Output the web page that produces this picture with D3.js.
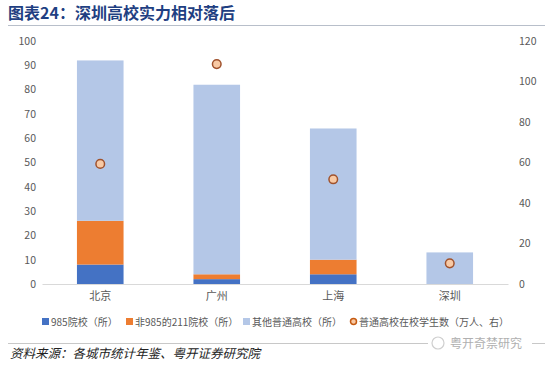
<!DOCTYPE html>
<html>
<head>
<meta charset="utf-8">
<script src="https://cdn.jsdelivr.net/npm/d3@7"></script>
<style>
  body { margin: 0; background: #fff; }
  svg { display: block; font-family: "Microsoft YaHei", "Noto Sans CJK SC", sans-serif; }
</style>
</head>
<body>
<div class="chart"></div>
<script>
const cities = ['北京', '广州', '上海', '深圳'];
const schools985 = [8, 2, 4, 0];
const schools211 = [18, 2, 6, 0];
const schoolsOther = [66, 78, 54, 13];
const students = [59.3, 108.6, 51.7, 10.2];
const leftTicks = [0, 10, 20, 30, 40, 50, 60, 70, 80, 90, 100];
const rightTicks = [0, 20, 40, 60, 80, 100, 120];
const seriesNames = ['985院校（所）', '非985的211院校（所）', '其他普通高校（所）', '普通高校在校学生数（万人、右）'];

const width = 550, height = 369;
const margin = {top: 41, right: 42, bottom: 85, left: 42};
const colors = ['#4472c4', '#ed7d31', '#b4c7e7'];

const svg = d3.select('.chart')
  .append('svg')
  .attr('width', width)
  .attr('height', height);

// title + rules
svg.append('text')
  .attr('x', 8).attr('y', 19)
  .attr('font-size', 16).attr('font-weight', 'bold')
  .attr('fill', '#1f3f82')
  .text('图表24：深圳高校实力相对落后');
svg.append('line')
  .attr('x1', 8).attr('x2', 545).attr('y1', 25.5).attr('y2', 25.5)
  .attr('stroke', '#b8bfca').attr('stroke-width', 1);

svg.append('line')
  .attr('x1', 8).attr('x2', 545).attr('y1', 343.5).attr('y2', 343.5)
  .attr('stroke', '#c8c8c8').attr('stroke-width', 1);
svg.append('rect')
  .attr('x', 428).attr('y', 336).attr('width', 104).attr('height', 14)
  .attr('fill', '#fff');
svg.append('text')
  .attr('x', 10).attr('y', 358)
  .attr('font-size', 12.5).attr('font-style', 'italic')
  .attr('fill', '#222')
  .text('资料来源：各城市统计年鉴、粤开证券研究院');
svg.append('text')
  .attr('x', 450).attr('y', 348)
  .attr('font-size', 12)
  .attr('fill', '#b0b0b0')
  .text('粤开奇禁研究');
svg.append('circle')
  .attr('cx', 438).attr('cy', 343).attr('r', 6)
  .attr('fill', 'none').attr('stroke', '#cfcfcf').attr('stroke-width', 1.2);

const innerH = height - margin.top - margin.bottom;
const g = svg.append('g')
  .attr('transform', `translate(${margin.left}, ${margin.top})`);

const xScale = d3.scaleBand()
  .domain(cities)
  .range([0, width - margin.left - margin.right])
  .paddingInner(0.6)
  .paddingOuter(0.3);

const yScale = d3.scaleLinear().domain([0, 100]).range([innerH, 0]);
const yScaleRight = d3.scaleLinear().domain([0, 120]).range([innerH, 0]);

// axes
const leftAxis = g.append('g')
  .call(d3.axisLeft(yScale).tickValues(leftTicks).tickSize(0).tickPadding(6));
const rightAxis = g.append('g')
  .attr('transform', `translate(${width - margin.left - margin.right}, 0)`)
  .call(d3.axisRight(yScaleRight).tickValues(rightTicks).tickSize(0).tickPadding(11));
[leftAxis, rightAxis].forEach(a => {
  a.select('.domain').remove();
  a.selectAll('text').attr('font-size', 10.5).attr('fill', '#595959')
    .attr('font-family', '"Microsoft YaHei", "Noto Sans CJK SC", sans-serif');
});

// stacked bars
const rows = cities.map((c, i) => ({city: c, a: schools985[i], b: schools211[i], c: schoolsOther[i]}));
const stack = d3.stack().keys(['a', 'b', 'c'])(rows);

g.selectAll('.layer')
  .data(stack)
  .enter()
  .append('g')
  .attr('fill', (d, i) => colors[i])
  .selectAll('rect')
  .data(d => d)
  .enter()
  .append('rect')
  .attr('x', d => xScale(d.data.city))
  .attr('width', xScale.bandwidth())
  .attr('y', d => yScale(d[1]))
  .attr('height', d => yScale(d[0]) - yScale(d[1]));

// baseline
const xAxis = g.append('g')
  .attr('transform', `translate(0, ${innerH})`)
  .call(d3.axisBottom(xScale).tickSize(0).tickPadding(8));
xAxis.select('.domain').attr('stroke', '#d9d9d9');
xAxis.selectAll('text').attr('font-size', 11).attr('fill', '#595959')
  .attr('font-family', '"Microsoft YaHei", "Noto Sans CJK SC", sans-serif');

// student dots
g.selectAll('.dot')
  .data(students)
  .enter()
  .append('circle')
  .attr('cx', (d, i) => xScale(cities[i]) + xScale.bandwidth() / 2)
  .attr('cy', d => yScaleRight(d))
  .attr('r', 4.3)
  .attr('fill', '#f8c9a4')
  .attr('stroke', '#a0522d')
  .attr('stroke-width', 1.5);

// legend
const legendX = [42, 126, 243, 350];
const legend = svg.append('g').attr('font-size', 10).attr('fill', '#595959');
seriesNames.forEach((name, i) => {
  const item = legend.append('g').attr('transform', `translate(${legendX[i]}, 322)`);
  if (i < 3) {
    item.append('rect').attr('x', 0).attr('y', -4).attr('width', 7).attr('height', 7).attr('fill', colors[i]);
  } else {
    item.append('circle').attr('cx', 3.5).attr('cy', -0.5).attr('r', 3)
      .attr('fill', '#f8c9a4').attr('stroke', '#c55a11').attr('stroke-width', 1.5);
  }
  item.append('text').attr('x', 9).attr('y', 3.5).text(name);
});
</script>
</body>
</html>
